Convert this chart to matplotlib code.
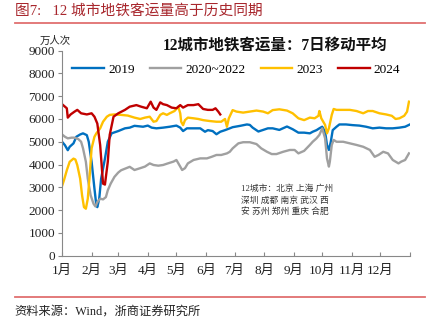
import matplotlib
matplotlib.use("Agg")
import matplotlib.pyplot as plt

plt.rcParams['font.family'] = ['Liberation Serif', 'Noto Sans CJK SC']

# 7日移动平均, 万人次, x = 一年中的第几天
d2019 = [1, 4, 7, 9, 13, 16, 20, 23, 27, 29, 32, 35, 37, 38, 40, 42, 46, 49, 53, 60, 67, 72, 77,
         86, 91, 95, 100, 107, 114, 121, 125, 128, 132, 139, 146, 151, 154, 159, 163, 167, 172, 177,
         180, 188, 195, 198, 201, 207, 212, 217, 222, 229, 237, 243, 249, 255, 261, 264, 268, 271,
         274, 277, 279, 281, 283, 285, 289, 292, 299, 306, 313, 320, 327, 334, 341, 348, 355, 361, 366]
v2019 = [5000, 4850, 4630, 4780, 4930, 5220, 5320, 5370, 5290, 5000, 4120, 2940, 2200, 2130, 2500,
         3380, 4260, 5000, 5370, 5470, 5590, 5620, 5700, 5660, 5710, 5620, 5590, 5620, 5660, 5710,
         5620, 5470, 5590, 5590, 5590, 5440, 5510, 5470, 5330, 5440, 5510, 5590, 5640, 5700, 5760,
         5740, 5620, 5450, 5520, 5590, 5590, 5520, 5670, 5550, 5400, 5400, 5370, 5440, 5510, 5590,
         5660, 5440, 4860, 4640, 5000, 5510, 5660, 5760, 5760, 5730, 5710, 5660, 5590, 5620, 5590,
         5590, 5620, 5660, 5760]

d2020_2022 = [1, 4, 7, 11, 14, 18, 21, 23, 26, 28, 31, 34, 36, 38, 41, 44, 47, 49, 52, 56, 60, 63,
              69, 72, 77, 83, 88, 93, 97, 102, 107, 112, 118, 121, 125, 127, 130, 133, 139, 146, 153,
              158, 163, 168, 174, 177, 180, 186, 191, 198, 205, 210, 216, 221, 226, 233, 240, 245,
              249, 255, 261, 264, 268, 271, 274, 277, 279, 281, 282, 284, 286, 289, 296, 303, 310,
              317, 324, 329, 333, 338, 343, 348, 354, 357, 361, 365]
v2020_2022 = [5320, 5220, 5150, 5180, 5180, 5120, 5000, 4710, 4120, 3380, 2650, 2280, 2160, 2350,
              2500, 2470, 2570, 2870, 3160, 3460, 3650, 3750, 3850, 3900, 3760, 3840, 3910, 4050,
              3980, 3950, 3980, 4050, 4130, 4200, 3910, 3760, 3840, 4050, 4200, 4270, 4270, 4340,
              4420, 4420, 4490, 4560, 4710, 4930, 4980, 4980, 4900, 4710, 4560, 4460, 4460, 4560,
              4640, 4640, 4490, 4600, 4860, 5000, 5150, 5300, 5590, 5150, 4270, 3910, 4130, 4860,
              5080, 5000, 5000, 4930, 4860, 4780, 4640, 4340, 4420, 4560, 4490, 4200, 4050, 4130,
              4200, 4490]

d2023 = [1, 3, 6, 9, 13, 15, 17, 20, 22, 24, 26, 28, 30, 32, 35, 37, 41, 44, 48, 51, 56, 63, 70,
         77, 83, 88, 93, 97, 100, 104, 107, 111, 114, 119, 123, 125, 126, 128, 130, 133, 139, 144,
         149, 156, 163, 168, 172, 174, 176, 180, 184, 191, 198, 205, 212, 217, 222, 229, 237, 243,
         249, 255, 261, 266, 270, 271, 273, 277, 279, 281, 284, 286, 289, 296, 303, 310, 317, 322,
         327, 334, 341, 347, 351, 355, 360, 363, 365]
v2023 = [3060, 3310, 3750, 4120, 4260, 4220, 3970, 3380, 2650, 2130, 2060, 2500, 3530, 4710, 5220,
         5370, 5590, 5880, 6100, 6180, 6200, 6180, 6150, 6060, 6000, 6060, 6100, 5880, 5910, 6180,
         6250, 6180, 6250, 6350, 6540, 6250, 5880, 5730, 5950, 6060, 6030, 6000, 5950, 5910, 5880,
         5880, 6000, 5660, 6030, 6390, 6325, 6280, 6325, 6370, 6325, 6250, 6390, 6425, 6370, 6250,
         6030, 5950, 6060, 6030, 6140, 6350, 6030, 5740, 5370, 5590, 6180, 6440, 6400, 6400, 6400,
         6350, 6250, 6350, 6350, 6250, 6200, 6140, 6000, 6030, 6140, 6320, 6760]

d2024 = [1, 6, 7, 10, 14, 17, 21, 27, 32, 35, 38, 41, 44, 46, 49, 51, 55, 60, 67, 72, 79, 84, 90,
         94, 97, 100, 104, 107, 111, 116, 121, 125, 128, 133, 139, 144, 149, 154, 159, 162, 165, 167]
v2024 = [6650, 6470, 6060, 6200, 6320, 6400, 6250, 6200, 6250, 6100, 5800, 4850, 3160, 3120, 4120,
         5300, 6100, 6250, 6400, 6540, 6610, 6540, 6470, 6760, 6500, 6400, 6730, 6650, 6610, 6500,
         6470, 6610, 6500, 6610, 6610, 6650, 6440, 6400, 6400, 6470, 6320, 6200]

month_days = [1, 32, 60, 91, 121, 152, 182, 213, 244, 274, 305, 335, 366]
month_labels = ['1月', '2月', '3月', '4月', '5月', '6月', '7月', '8月', '9月', '10月', '11月', '12月', '']

fig = plt.figure(figsize=(4.37, 3.29), dpi=100)
ax = fig.add_axes([0.142, 0.223, 0.796, 0.623])

lw = 1.7
ax.plot(d2019, v2019, color='#0070C0', lw=lw, label='2019')
ax.plot(d2020_2022, v2020_2022, color='#A0A0A0', lw=lw, label='2020~2022')
ax.plot(d2023, v2023, color='#FFC000', lw=lw, label='2023')
ax.plot(d2024, v2024, color='#C00000', lw=lw, label='2024')

ax.set_xlim(1, 366)
ax.set_ylim(0, 9000)
ax.set_yticks(range(0, 9001, 1000))
ax.set_xticks(month_days)
ax.set_xticklabels(month_labels)
for s in ['top', 'right']:
    ax.spines[s].set_visible(False)
for s in ['left', 'bottom']:
    ax.spines[s].set_color('#888888')
    ax.spines[s].set_linewidth(0.8)
ax.tick_params(axis='y', direction='out', length=3, width=0.8, color='#888888', pad=2,
               labelsize=9.5, labelcolor='#222222')
ax.tick_params(axis='x', direction='in', length=3, width=0.8, color='#888888', pad=7,
               labelsize=9.5, labelcolor='#222222')

ax.legend(ncol=4, loc='center left', bbox_to_anchor=(0.03, 0.906), frameon=False,
          fontsize=9.5, handlelength=2.4, handletextpad=0.3, columnspacing=1.15,
          borderpad=0, borderaxespad=0)

fig.text(0.09, 0.876, '万人次', fontsize=7.5, ha='left', va='center', color='#222222')
fig.text(0.373, 0.862, '12城市地铁客运量：7日移动平均', fontsize=11.2, fontweight='bold',
         ha='left', va='center', color='#111111')
ax.text(0.515, 0.27, '12城市：北京 上海 广州\n深圳 成都 南京 武汉 西\n安 苏州 郑州 重庆 合肥',
        transform=ax.transAxes, fontsize=6.3, ha='left', va='center', color='#333333',
        linespacing=1.45)

# header and footer
fig.text(0.034, 0.968, '图7:   12 城市地铁客运量高于历史同期', fontsize=10.6, ha='left', va='center',
         color='#A8272D')
fig.add_artist(plt.Line2D([0.034, 0.973], [0.931, 0.931], color='#E07070', lw=1.3))
fig.add_artist(plt.Line2D([0.034, 0.973], [0.097, 0.097], color='#E07070', lw=1.3))
fig.text(0.034, 0.052, '资料来源：Wind，浙商证券研究所', fontsize=8.8, ha='left', va='center',
         color='#222222')

fig.savefig('out.png', dpi=100)
